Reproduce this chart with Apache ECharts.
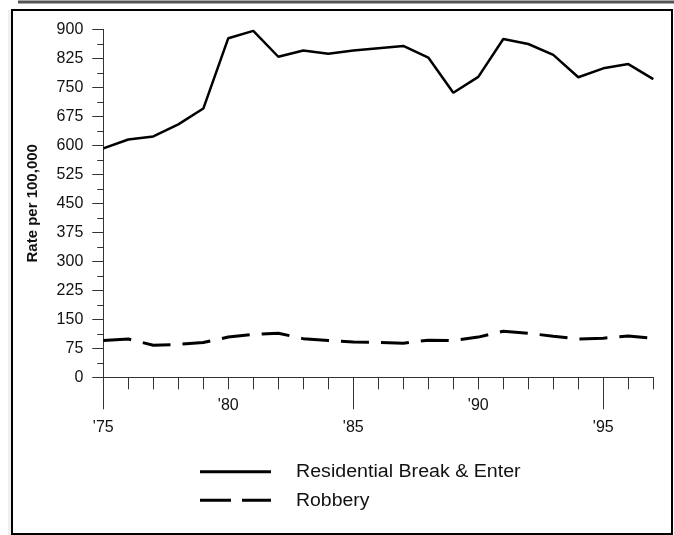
<!DOCTYPE html>
<html>
<head>
<meta charset="utf-8">
<script src="https://cdn.jsdelivr.net/npm/echarts@6/dist/echarts.min.js"></script>
<style>
html,body{margin:0;padding:0;background:#fff;}
#c{width:674px;height:535px;}
</style>
</head>
<body>
<div id="c"></div>
<script>
// ---- data ----
const years = ['1975','1976','1977','1978','1979','1980','1981','1982','1983','1984','1985','1986','1987','1988','1989','1990','1991','1992','1993','1994','1995','1996','1997'];
const breakEnter = [592, 615, 623, 654, 695, 877, 896, 829, 845, 837, 845, 851, 857, 827, 736, 777, 875, 862, 834, 776, 799, 810, 771];
const robbery = [95, 99, 83, 85, 90, 104, 111, 114, 100, 95, 91, 90, 88, 96, 95, 104, 119, 114, 106, 99, 101, 107, 101];
const upperLabelYears = ['1980','1990'];
const lowerLabelYears = ['1975','1985','1995'];
const yMin = 0, yMax = 900, yStep = 75;
const seriesNames = ['Residential Break & Enter', 'Robbery'];
const yTitle = 'Rate per 100,000';

const FONT = "'Liberation Sans', Arial, sans-serif";
const fmtYear = v => "'" + String(v).slice(2);
const robberyDash = [28, 12];

const chart = echarts.init(document.getElementById('c'), null, {renderer:'canvas'});
chart.setOption({
  animation:false,
  backgroundColor:'#fff',
  textStyle:{fontFamily:FONT},
  graphic:[
    {type:'rect', silent:true, shape:{x:8,y:10,width:4,height:525}, style:{fill:'#efefef'}},
    {type:'rect', silent:true, shape:{x:12,y:10,width:660,height:524}, style:{fill:'none', stroke:'#000', lineWidth:2}},
    {type:'line', silent:true, shape:{x1:18,y1:2,x2:674,y2:2}, style:{stroke:'#555', lineWidth:3}},
    // legend
    {type:'line', silent:true, shape:{x1:200,y1:471.7,x2:271,y2:471.7}, style:{stroke:'#000', lineWidth:3}},
    {type:'line', silent:true, shape:{x1:200,y1:500.3,x2:271,y2:500.3}, style:{stroke:'#000', lineWidth:3, lineDash:[31,11]}},
    {type:'text', silent:true, x:296, y:472, scaleX:1.09, style:{text:seriesNames[0], x:0, y:0, fill:'#111', fontSize:18, fontFamily:FONT, verticalAlign:'middle'}},
    {type:'text', silent:true, x:296, y:501, scaleX:1.08, style:{text:seriesNames[1], x:0, y:0, fill:'#111', fontSize:18, fontFamily:FONT, verticalAlign:'middle'}}
  ],
  grid:{left:103.3, right:20.7, top:29.3, bottom:157.7, containLabel:false},
  xAxis:[
    {
      type:'category', data:years, boundaryGap:false,
      axisLine:{show:true, lineStyle:{color:'#333', width:1}},
      axisTick:{show:true, interval:0, length:12, lineStyle:{color:'#333'}},
      axisLabel:{interval:(i,v)=>upperLabelYears.includes(v), formatter:fmtYear, margin:20, fontSize:16, color:'#111', fontFamily:FONT},
      splitLine:{show:false}
    },
    {
      type:'category', data:years, boundaryGap:false, position:'bottom',
      axisLine:{show:false},
      axisTick:{show:true, interval:(i,v)=>lowerLabelYears.includes(v), length:32, lineStyle:{color:'#333'}},
      axisLabel:{interval:(i,v)=>lowerLabelYears.includes(v), formatter:fmtYear, margin:42, fontSize:16, color:'#111', fontFamily:FONT},
      splitLine:{show:false}
    }
  ],
  yAxis:{
    type:'value', min:yMin, max:yMax, interval:yStep,
    name:yTitle, nameLocation:'middle', nameRotate:90, nameGap:63,
    nameTextStyle:{fontSize:15, fontWeight:'bold', color:'#111', fontFamily:FONT},
    axisLine:{show:true, lineStyle:{color:'#333', width:1}},
    axisTick:{show:true, length:11, lineStyle:{color:'#333'}},
    minorTick:{show:true, splitNumber:2, length:6, lineStyle:{color:'#333'}},
    splitLine:{show:false},
    axisLabel:{fontSize:16, margin:20, color:'#111', fontFamily:FONT}
  },
  series:[
    {name:seriesNames[0], type:'line', xAxisIndex:0, data:breakEnter, symbol:'none', smooth:false,
     lineStyle:{color:'#000', width:2.5}, itemStyle:{color:'#000'}},
    {name:seriesNames[1], type:'line', xAxisIndex:0, data:robbery, symbol:'none', smooth:false,
     lineStyle:{color:'#000', width:3, type:robberyDash}, itemStyle:{color:'#000'}}
  ]
});
</script>
</body>
</html>
